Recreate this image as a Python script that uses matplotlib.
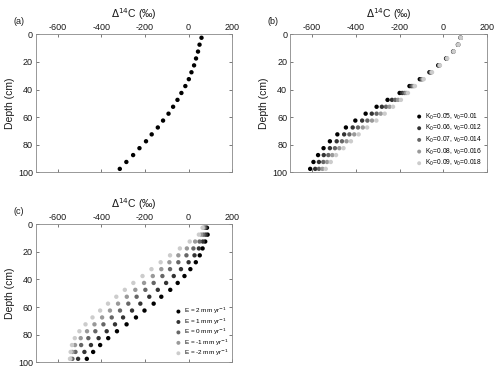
import numpy as np
import matplotlib
matplotlib.use("Agg")
import matplotlib.pyplot as plt

plt.rcParams['font.family'] = ['Liberation Sans', 'DejaVu Sans']
plt.rcParams['axes.unicode_minus'] = False

depth = [2.5, 7.5, 12.5, 17.5, 22.5, 27.5, 32.5, 37.5, 42.5, 47.5,
         52.5, 57.5, 62.5, 67.5, 72.5, 77.5, 82.5, 87.5, 92.5, 97.5]

# (a) single profile
d14c_a = [59, 50, 43, 34, 25, 13, 1, -15, -33, -51,
          -71, -92, -117, -141, -169, -195, -225, -254, -285, -315]

# (b) K0 / v0 runs
labels_b = ["K$_0$=0.05, v$_0$=0.01", "K$_0$=0.06, v$_0$=0.012", "K$_0$=0.07, v$_0$=0.014",
            "K$_0$=0.08, v$_0$=0.016", "K$_0$=0.09, v$_0$=0.018"]
b_k05 = [78, 66, 44, 12, -24, -64, -108, -155, -200, -255,
         -305, -355, -402, -445, -484, -518, -547, -572, -593, -608]
b_k06 = [78, 67, 45, 14, -21, -60, -102, -147, -188, -235,
         -281, -327, -371, -414, -453, -487, -518, -546, -568, -585]
b_k07 = [79, 67, 46, 15, -19, -57, -98, -141, -178, -220,
         -262, -305, -347, -390, -429, -463, -495, -525, -548, -568]
b_k08 = [79, 68, 46, 16, -18, -55, -94, -135, -170, -207,
         -246, -286, -326, -368, -407, -442, -475, -507, -531, -552]
b_k09 = [79, 68, 47, 17, -16, -52, -90, -130, -162, -194,
         -230, -268, -306, -348, -387, -422, -456, -490, -514, -537]

# (c) erosion runs
labels_c = ["E = 2 mm yr$^{-1}$", "E = 1 mm yr$^{-1}$", "E = 0 mm yr$^{-1}$",
            "E = -1 mm yr$^{-1}$", "E = -2 mm yr$^{-1}$"]
c_e2 = [84, 87, 76, 64, 51, 33, 8, -19, -50, -84,
        -125, -160, -202, -241, -284, -328, -368, -405, -437, -466]
c_e1 = [78, 78, 65, 47, 27, 0, -35, -68, -103, -141,
        -180, -221, -259, -300, -337, -375, -412, -447, -477, -506]
c_e0 = [73, 68, 50, 22, -10, -47, -85, -120, -160, -198,
        -238, -276, -314, -352, -390, -427, -459, -492, -518, -532]
c_em1 = [68, 58, 30, -8, -47, -88, -125, -164, -204, -244,
         -283, -323, -360, -396, -431, -465, -494, -520, -532, -540]
c_em2 = [64, 47, 5, -40, -85, -128, -170, -211, -253, -292,
         -331, -369, -405, -440, -472, -500, -521, -534, -540, -543]

greys = ['#000000', '#333333', '#666666', '#999999', '#cccccc']


def style(ax, tag):
    ax.set_xlim(-700, 200)
    ax.set_ylim(100, 0)
    ax.set_xticks([-600, -400, -200, 0, 200])
    ax.set_yticks([0, 20, 40, 60, 80, 100])
    ax.xaxis.set_label_position('top')
    ax.tick_params(direction='in', length=2, width=0.5, labelsize=6.5, colors='#444444',
                   labelcolor='#1a1a1a', top=True, right=True, bottom=True,
                   labeltop=True, labelbottom=False, pad=2)
    for sp in ax.spines.values():
        sp.set_color('#888888')
        sp.set_linewidth(0.6)
    ax.set_xlabel('$\\Delta^{14}$C (‰)', fontsize=7.5, labelpad=3, color='#1a1a1a')
    ax.set_ylabel('Depth (cm)', fontsize=7.5, labelpad=2, color='#1a1a1a')
    ax.text(-0.115, 1.075, tag, transform=ax.transAxes, fontsize=6.5, color='#1a1a1a')


fig = plt.figure(figsize=(5, 3.73), dpi=100)
ax_a = fig.add_axes([0.0714, 0.538, 0.3932, 0.370])
ax_b = fig.add_axes([0.580, 0.538, 0.3946, 0.370])
ax_c = fig.add_axes([0.0714, 0.0287, 0.3932, 0.370])

ax_a.scatter(d14c_a, depth, s=10, color='black', edgecolors='none')
style(ax_a, '(a)')

for vals, col, lab in zip([b_k05, b_k06, b_k07, b_k08, b_k09], greys, labels_b):
    ax_b.scatter(vals, depth, s=10, color=col, edgecolors='none', label=lab)
style(ax_b, '(b)')
ax_b.legend(loc='lower right', bbox_to_anchor=(0.97, 0.03), frameon=False, fontsize=4.8,
            handletextpad=0.2, labelspacing=0.22, markerscale=0.9, borderpad=0.0,
            borderaxespad=0.0, handlelength=1.2)

for vals, col, lab in zip([c_e2, c_e1, c_e0, c_em1, c_em2], greys, labels_c):
    ax_c.scatter(vals, depth, s=10, color=col, edgecolors='none', label=lab)
style(ax_c, '(c)')
ax_c.legend(loc='lower right', bbox_to_anchor=(0.98, 0.03), frameon=False, fontsize=4.6,
            handletextpad=0.2, labelspacing=0.02, markerscale=0.9, borderpad=0.0,
            borderaxespad=0.0, handlelength=1.2)

fig.savefig('out.png', dpi=100)
